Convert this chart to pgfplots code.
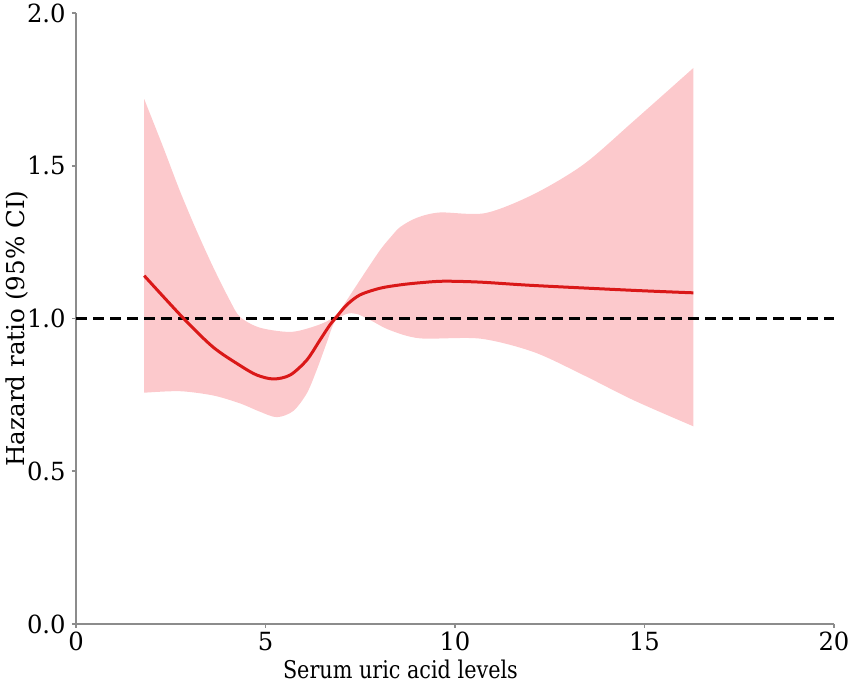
\documentclass[border=0pt]{standalone}
\usepackage{fontspec}
\setmainfont{DejaVu Serif}
\newfontfamily\xfont[FakeStretch=0.85]{DejaVu Serif}
\newfontfamily\tfont[FakeStretch=0.97]{DejaVu Serif}
\usepackage{pgfplots}
\pgfplotsset{compat=1.18}
\usepgfplotslibrary{fillbetween}
\definecolor{bandpink}{RGB}{252,201,204}
\definecolor{curvered}{RGB}{218,24,24}
\definecolor{spinegray}{RGB}{140,140,140}
\begin{document}
\begin{tikzpicture}
\begin{axis}[
  scale only axis,
  width=379pt, height=305.5pt,
  xmin=0, xmax=20, ymin=0, ymax=2,
  xtick={0,5,10,15,20},
  ytick={0,0.5,1,1.5,2},
  axis x line*=bottom, axis y line*=left,
  axis line style={spinegray, line width=0.8pt, -},
  tick style={spinegray, line width=0.8pt},
  tick align=outside,
  major tick length=2pt,
  /pgf/number format/assume math mode=true,
  tick label style={font=\tfont\fontsize{12.5pt}{14pt}\selectfont, black},
  xticklabel style={inner sep=2pt},
  yticklabel style={inner sep=3pt},
  yticklabel={\pgfmathprintnumber[fixed, fixed zerofill, precision=1]{\tick}},
  xticklabel={\pgfmathprintnumber[fixed, precision=0]{\tick}},
  xlabel={Serum uric acid levels},
  ylabel={Hazard ratio (95\% CI)},
  xlabel style={font=\xfont\fontsize{12.2pt}{14pt}\selectfont, at={(axis description cs:0.428,-0.058)}, anchor=north, inner sep=0pt},
  ylabel style={font=\fontsize{12.3pt}{14pt}\selectfont, at={(axis description cs:-0.0937,0.4836)}, anchor=north, rotate=0, inner sep=0pt},
  clip=false,
]
\addplot[draw=none, name path=U, smooth] coordinates {
 (1.80,1.718) (2.30,1.561) (2.74,1.418) (3.18,1.288) (3.62,1.168) (4.06,1.059) (4.33,1.005)
 (4.85,0.970) (5.65,0.956) (6.26,0.973) (6.70,0.996) (6.97,1.028) (7.32,1.093) (7.67,1.159)
 (8.03,1.225) (8.30,1.266) (8.56,1.30) (9.00,1.33) (9.60,1.347) (10.80,1.345) (12.08,1.407)
 (13.40,1.505) (14.72,1.647) (16.29,1.82)
};
\addplot[draw=none, name path=L, smooth] coordinates {
 (1.80,0.757) (2.74,0.762) (3.62,0.748) (4.33,0.722) (4.85,0.695) (5.30,0.677) (5.73,0.697)
 (6.09,0.755) (6.35,0.831) (6.61,0.919) (6.83,0.990) (7.14,1.015) (7.41,1.015) (7.76,0.995)
 (8.28,0.962) (9.08,0.935) (10.67,0.934) (12.08,0.89) (13.40,0.814) (14.72,0.732) (16.29,0.647)
};
\addplot[bandpink, draw=none] fill between[of=U and L];
\addplot[black, line width=1.4pt, dash pattern=on 5.5pt off 3pt] coordinates {(0,1) (20,1)};
\addplot[curvered, line width=1.5pt, smooth] coordinates {
 (1.80,1.140) (2.84,1.0) (3.62,0.906) (4.33,0.846) (4.77,0.815) (5.21,0.802) (5.65,0.815)
 (6.09,0.864) (6.44,0.930) (6.70,0.979) (6.88,1.006) (7.14,1.044) (7.49,1.077) (8.02,1.099)
 (8.55,1.110) (9.08,1.117) (9.70,1.122) (10.67,1.119) (12.08,1.108) (14.72,1.092) (16.29,1.084)
};
\end{axis}
\pgfresetboundingbox
\path ([shift={(-38pt,-29.5pt)}]current axis.south west) rectangle ([shift={(8.5pt,6.5pt)}]current axis.north east);
\end{tikzpicture}
\end{document}
